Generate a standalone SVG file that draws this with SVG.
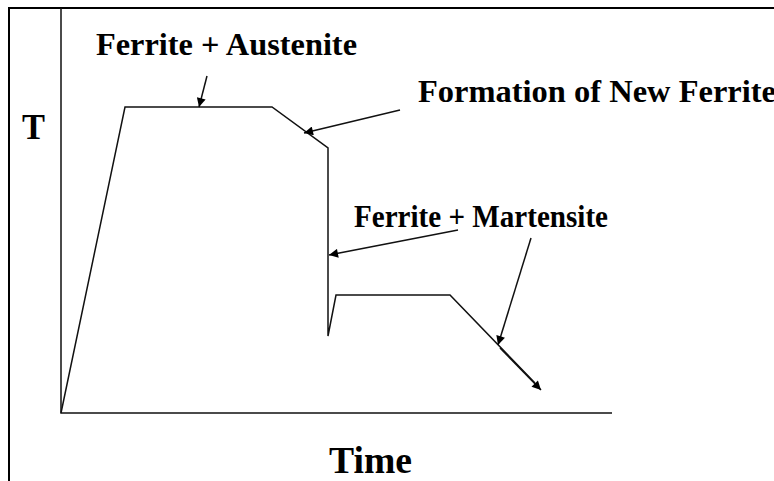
<svg xmlns="http://www.w3.org/2000/svg" width="774" height="481" viewBox="0 0 774 481">
<style>
.t{font-family:"Liberation Serif","Times New Roman",serif;font-weight:bold;fill:#000}
.ln{fill:none;stroke:#111;stroke-width:1.5}
.ar{fill:none;stroke:#111;stroke-width:1.5;marker-end:url(#ah)}
</style>
<defs>
<marker id="ah" viewBox="0 0 10 10" refX="10" refY="5" markerWidth="12" markerHeight="9" markerUnits="userSpaceOnUse" orient="auto">
<path d="M0,0 L10,5 L0,10 z" fill="#000"/>
</marker>
</defs>
<rect width="774" height="481" fill="#fff"/>
<g id="frame"><path d="M9,481 V8 H774" fill="none" stroke="#000" stroke-width="2"/></g>
<g id="axes">
<path class="ln" d="M61,8 V413 H612"/>
<text class="t" x="22" y="139" font-size="35" textLength="23" lengthAdjust="spacingAndGlyphs">T</text>
<text class="t" x="329" y="473" font-size="38" textLength="83" lengthAdjust="spacingAndGlyphs">Time</text>
</g>
<g id="curve">
<path class="ln" d="M61,413 L125,107 H272 L328,148 V336 L336,295 H450 L535,383"/>
</g>
<g id="labels">
<text class="t" x="96" y="55" font-size="32" textLength="261" lengthAdjust="spacingAndGlyphs">Ferrite + Austenite</text>
<text class="t" x="418" y="102" font-size="32" textLength="358" lengthAdjust="spacingAndGlyphs">Formation of New Ferrite</text>
<text class="t" x="354" y="227" font-size="32" textLength="254" lengthAdjust="spacingAndGlyphs">Ferrite + Martensite</text>
</g>
<g id="connectors">
<path class="ar" d="M207,76 L199,107"/>
<path class="ar" d="M400,110 L304,133"/>
<path class="ar" d="M458,230 L329,255"/>
<path class="ar" d="M531,238 L498,345"/>
<path class="ar" d="M500,348 L541,390"/>
</g>
</svg>
